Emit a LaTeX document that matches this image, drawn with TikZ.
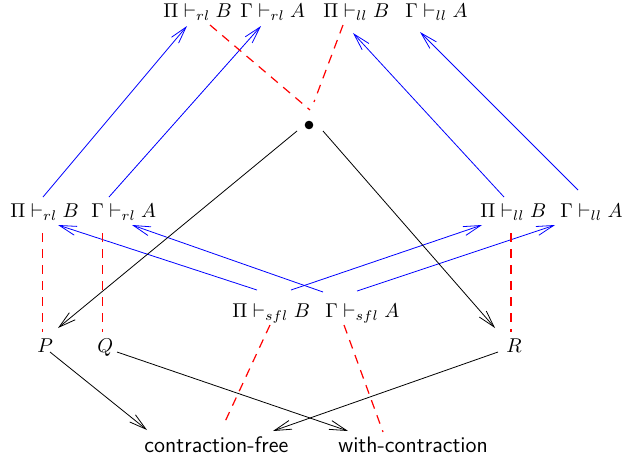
\documentclass[tikz,border=0pt]{standalone}
\usetikzlibrary{arrows.meta}
\begin{document}
\begin{tikzpicture}[x=0.5pt,y=-0.5pt,
  lbl/.style={inner sep=0pt, anchor=base west},
  sflbl/.style={lbl, font=\sffamily\fontsize{11.2}{13}\selectfont},
  tip/.style={-{Straight Barb[length=8.5pt,width=4.6pt]}},
  bl/.style={blue, tip},
  bk/.style={black, tip},
  rd/.style={red, line width=0.6pt, dash pattern=on 4.5pt off 3.5pt}]
\useasboundingbox (0,0) rectangle (626,461);
% judgments
\node[lbl] (trlP) at (163,17) {$\Pi\vdash_{rl}B$};
\node[lbl] (trlG) at (240,17) {$\Gamma\vdash_{rl}A$};
\node[lbl] (tllP) at (323,17) {$\Pi\vdash_{ll}B$};
\node[lbl] (tllG) at (405,17) {$\Gamma\vdash_{ll}A$};
\node[lbl] (mrlP) at (10,217) {$\Pi\vdash_{rl}B$};
\node[lbl] (mrlG) at (91,217) {$\Gamma\vdash_{rl}A$};
\node[lbl] (mllP) at (480,217) {$\Pi\vdash_{ll}B$};
\node[lbl] (mllG) at (560,217) {$\Gamma\vdash_{ll}A$};
\node[lbl] (sP) at (232,317) {$\Pi\vdash_{sfl}B$};
\node[lbl] (sG) at (325,317) {$\Gamma\vdash_{sfl}A$};
\node[lbl] (P) at (37,352) {$P$};
\node[lbl] (Q) at (97,352) {$Q$};
\node[lbl] (R) at (506,352) {$R$};
\node[sflbl] (cf) at (144,452) {contraction-free};
\node[sflbl] (wc) at (338,452) {with-contraction};
\node[circle, fill, inner sep=0pt, minimum size=4.3pt] (dot) at (309,125) {};
% ports
\coordinate (b1s) at (43,197);  \coordinate (b1e) at (187,26);
\coordinate (b2s) at (109,197); \coordinate (b2e) at (261,26);
\coordinate (b3s) at (504,197); \coordinate (b3e) at (353,33);
\coordinate (b4s) at (578,190); \coordinate (b4e) at (420,32);
\coordinate (b5s) at (257,290); \coordinate (b5e) at (58,225);
\coordinate (b6s) at (323,292); \coordinate (b6e) at (132,225);
\coordinate (b7s) at (291,290); \coordinate (b7e) at (482,225);
\coordinate (b8s) at (357,291); \coordinate (b8e) at (555,225);
\coordinate (k1s) at (297,131); \coordinate (k1e) at (58,328);
\coordinate (k2s) at (323,131); \coordinate (k2e) at (495,328);
\coordinate (k3s) at (50,352);  \coordinate (k3e) at (147,430);
\coordinate (k4s) at (117,352); \coordinate (k4e) at (348,431);
\coordinate (k5s) at (498,352); \coordinate (k5e) at (273,431);
\coordinate (d1s) at (210,25);  \coordinate (d1e) at (310,110);
\coordinate (d2s) at (343,25);  \coordinate (d2e) at (314,102);
\coordinate (d3s) at (42.5,233);  \coordinate (d3e) at (42.5,332);
\coordinate (d4s) at (102.5,233); \coordinate (d4e) at (102.5,332);
\coordinate (d5s) at (511,233); \coordinate (d5e) at (511,332);
\coordinate (d6s) at (270,325); \coordinate (d6e) at (223,426);
\coordinate (d7s) at (344,325); \coordinate (d7e) at (383,432);
% blue arrows
\draw[bl] (b1s) -- (b1e);
\draw[bl] (b2s) -- (b2e);
\draw[bl] (b3s) -- (b3e);
\draw[bl] (b4s) -- (b4e);
\draw[bl] (b5s) -- (b5e);
\draw[bl] (b6s) -- (b6e);
\draw[bl] (b7s) -- (b7e);
\draw[bl] (b8s) -- (b8e);
% black arrows
\draw[bk] (k1s) -- (k1e);
\draw[bk] (k2s) -- (k2e);
\draw[bk] (k3s) -- (k3e);
\draw[bk] (k4s) -- (k4e);
\draw[bk] (k5s) -- (k5e);
% red dashed
\draw[rd] (d1s) -- (d1e);
\draw[rd] (d2s) -- (d2e);
\draw[rd] (d3s) -- (d3e);
\draw[rd] (d4s) -- (d4e);
\draw[rd] (d5s) -- (d5e);
\draw[rd] (d6s) -- (d6e);
\draw[rd] (d7s) -- (d7e);
\end{tikzpicture}
\end{document}
